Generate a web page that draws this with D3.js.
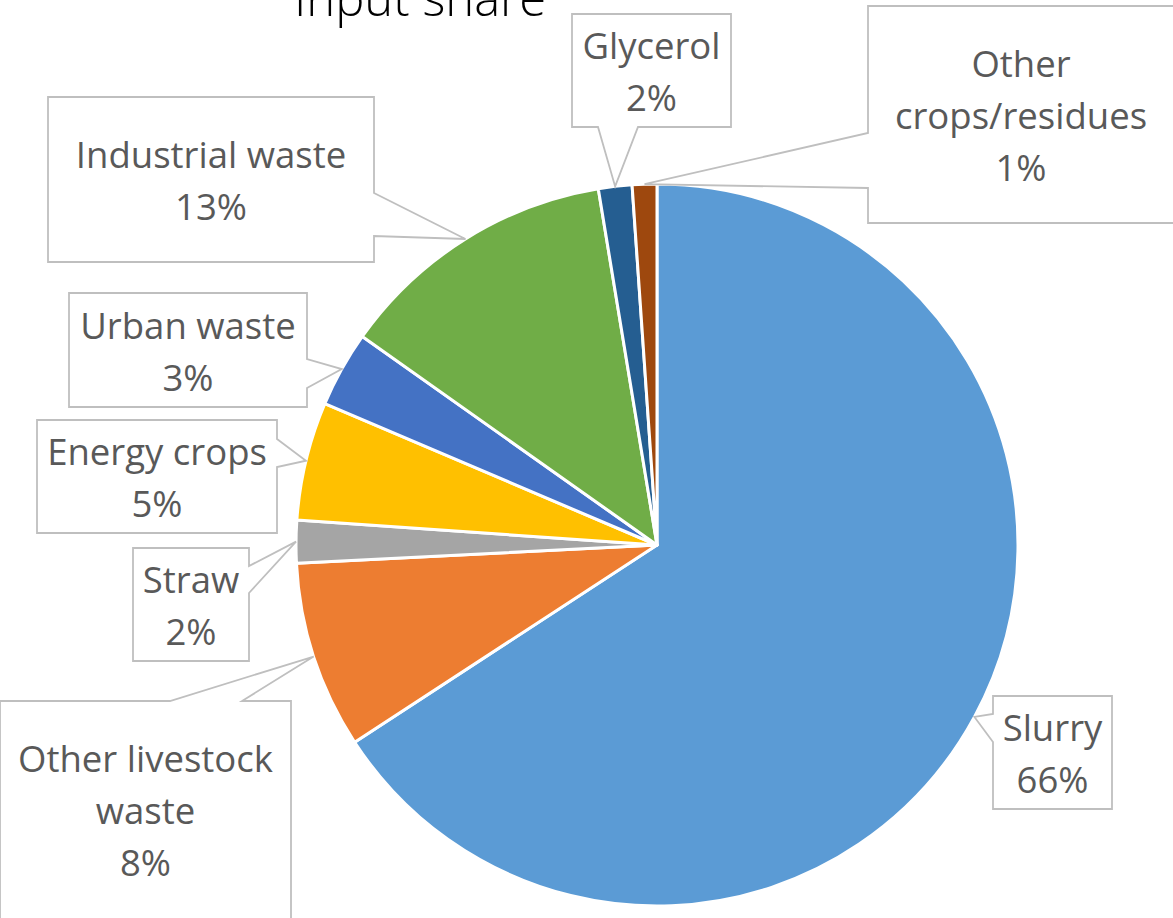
<!DOCTYPE html>
<html>
<head>
<meta charset="utf-8">
<script src="https://cdn.jsdelivr.net/npm/d3@7"></script>
<style>
  html, body { margin: 0; padding: 0; background: #ffffff; overflow: hidden; }
  svg { display: block; }
</style>
</head>
<body>
<script>
// Biogas plant feedstock: share of each input type (%)
const categories = ["Slurry", "Other livestock waste", "Straw", "Energy crops",
                    "Urban waste", "Industrial waste", "Glycerol", "Other crops/residues"];
const values = [65.8, 8.4, 1.9, 5.3, 3.4, 12.6, 1.5, 1.1];
const colors = ["#5B9BD5", "#ED7D31", "#A5A5A5", "#FFC000",
                "#4472C4", "#70AD47", "#255E91", "#9E480E"];
// How each category name wraps inside its callout
const nameLines = [["Slurry"], ["Other livestock", "waste"], ["Straw"], ["Energy crops"],
                   ["Urban waste"], ["Industrial waste"], ["Glycerol"], ["Other", "crops/residues"]];
const title = "Input share";

// Callout boxes: rectangle, the side the pointer leaves from, and the gap on that side
const callouts = [
  { box: [993, 696, 1112, 809], side: "left",   gap: [714, 742] },
  { box: [0, 701, 291, 921],    side: "top",    gap: [170, 242] },
  { box: [133, 548, 249, 661],  side: "right",  gap: [566, 593] },
  { box: [37, 420, 277, 533],   side: "right",  gap: [439, 467] },
  { box: [69, 293, 307, 407],   side: "right",  gap: [359, 388] },
  { box: [48, 97, 374, 262],    side: "right",  gap: [193, 236] },
  { box: [572, 14, 731, 127],   side: "bottom", gap: [598, 638] },
  { box: [868, 6, 1174, 223],   side: "left",   gap: [133, 188] }
];

const W = 1173, H = 918;
const cx = 657, cy = 545, R = 361;
const fontFamily = "'Open Sans', 'Noto Sans', sans-serif";
const lineH = 52;

const svg = d3.select("body").append("svg").attr("width", W).attr("height", H);

const total = d3.sum(values);
const pie = d3.pie().sort(null).value(d => d)(values);
const arc = d3.arc().innerRadius(0).outerRadius(R);
const edge = d3.arc().innerRadius(R).outerRadius(R);

const g = svg.append("g").attr("transform", `translate(${cx},${cy})`);
g.selectAll("path.slice")
  .data(pie)
  .join("path")
  .attr("class", "slice")
  .attr("d", arc)
  .attr("fill", (d, i) => colors[i])
  .attr("stroke", "#ffffff")
  .attr("stroke-width", 3)
  .attr("stroke-linejoin", "round");

// Chart title, partly above the top edge of the chart area
svg.append("text")
  .attr("x", 420).attr("y", 16)
  .attr("text-anchor", "middle")
  .attr("font-family", fontFamily)
  .attr("font-weight", 300)
  .attr("font-size", 49)
  .attr("fill", "#000000")
  .text(title);

// Rectangle outline with a wedge pointer to the tip
function calloutPath(c, tip) {
  const [x0, y0, x1, y1] = c.box;
  const [a, b] = c.gap;
  let pts;
  if (c.side === "right") {
    pts = [[x0, y0], [x1, y0], [x1, a], tip, [x1, b], [x1, y1], [x0, y1]];
  } else if (c.side === "left") {
    pts = [[x0, y0], [x1, y0], [x1, y1], [x0, y1], [x0, b], tip, [x0, a]];
  } else if (c.side === "top") {
    pts = [[x0, y0], [a, y0], tip, [b, y0], [x1, y0], [x1, y1], [x0, y1]];
  } else {
    pts = [[x0, y0], [x1, y0], [x1, y1], [b, y1], tip, [a, y1], [x0, y1]];
  }
  return "M" + pts.map(p => p.join(",")).join("L") + "Z";
}

const labels = svg.append("g");
pie.forEach((d, i) => {
  const c = callouts[i];
  const e = edge.centroid(d);
  const tip = [cx + e[0], cy + e[1]];
  labels.append("path")
    .attr("d", calloutPath(c, tip))
    .attr("fill", "#ffffff")
    .attr("stroke", "#BFBFBF")
    .attr("stroke-width", 1.8);

  const lines = nameLines[i].concat([Math.round(d.value / total * 100) + "%"]);
  const [x0, y0, x1, y1] = c.box;
  const mx = (x0 + x1) / 2;
  const my = (y0 + Math.min(y1, 917)) / 2;
  const first = my - (lines.length - 1) * lineH / 2 + 14.5;
  const t = labels.append("text")
    .attr("text-anchor", "middle")
    .attr("font-family", fontFamily)
    .attr("font-size", 36.5)
    .attr("fill", "#595959");
  lines.forEach((s, k) => {
    t.append("tspan").attr("x", mx).attr("y", first + k * lineH).text(s);
  });
});
</script>
</body>
</html>
